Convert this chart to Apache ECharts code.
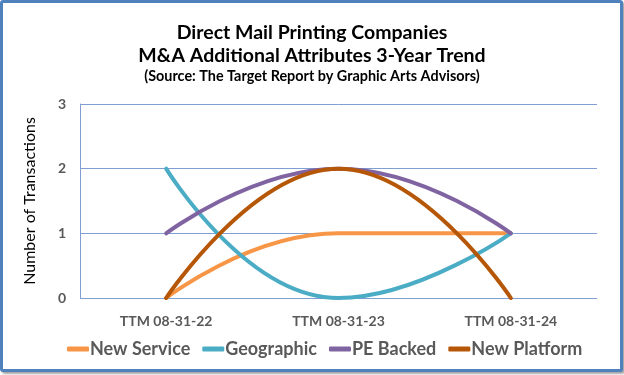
<!DOCTYPE html>
<html>
<head>
<meta charset="utf-8">
<script src="https://cdn.jsdelivr.net/npm/echarts@6/dist/echarts.min.js"></script>
<style>
html,body{margin:0;padding:0;background:#fff;}
#frame{position:absolute;left:0;top:0;width:617px;height:366px;border:3px solid #4F81BD;border-radius:3px;box-shadow:2px 2px 2px rgba(0,0,0,0.35);background:#fff;}
#chart{position:absolute;left:-3px;top:-3px;width:624px;height:375px;}
</style>
</head>
<body>
<div id="frame"><div id="chart"></div></div>
<script>
var categories = ['TTM 08-31-22', 'TTM 08-31-23', 'TTM 08-31-24'];
var newService = [0, 1, 1];
var geographic = [2, 0, 1];
var peBacked = [1, 2, 1];
var newPlatform = [0, 2, 0];
var seriesNames = ['New Service', 'Geographic', 'PE Backed', 'New Platform'];
var seriesColors = ['#F79646', '#4BACC6', '#8064A2', '#B65708'];
var seriesData = [newService, geographic, peBacked, newPlatform];

var chart = echarts.init(document.getElementById('chart'));
var font = 'Lato, "Open Sans", sans-serif';
chart.setOption({
  animation: false,
  textStyle: {fontFamily: font},
  title: {
    text: 'Direct Mail Printing Companies\nM&A Additional Attributes 3-Year Trend',
    subtext: '(Source: The Target Report by Graphic Arts Advisors)',
    left: 'center',
    top: 16,
    itemGap: 2,
    textStyle: {fontFamily: font, fontSize: 19.5, fontWeight: 'bold', color: '#000', lineHeight: 23},
    subtextStyle: {fontFamily: font, fontSize: 14.4, fontWeight: 'bold', color: '#000'}
  },
  grid: {left: 80, right: 27, top: 104, bottom: 77},
  legend: {
    data: seriesNames,
    bottom: 12,
    left: 62,
    icon: 'roundRect',
    itemWidth: 22,
    itemHeight: 5,
    itemGap: 12,
    textStyle: {fontFamily: font, fontSize: 18, fontWeight: 'bold', color: '#595959', padding: [0, 0, 0, -4]}
  },
  xAxis: {
    type: 'category',
    data: categories,
    boundaryGap: true,
    axisLine: {show: false},
    axisTick: {show: false},
    axisLabel: {fontFamily: font, fontSize: 14, fontWeight: 'bold', color: '#595959', margin: 16}
  },
  yAxis: {
    type: 'value',
    min: 0, max: 3, interval: 1,
    name: 'Number of Transactions',
    nameLocation: 'middle',
    nameGap: 42,
    nameTextStyle: {fontFamily: font, fontSize: 16, color: '#000'},
    axisLine: {show: true, lineStyle: {color: '#7F9FD3', width: 1}},
    axisTick: {show: false},
    axisLabel: {fontFamily: font, fontSize: 14, fontWeight: 'bold', color: '#595959', margin: 14},
    splitLine: {lineStyle: {color: '#7F9FD3', width: 1}}
  },
  series: seriesNames.map(function (n, i) {
    return {
      name: n,
      type: 'line',
      data: seriesData[i],
      smooth: 0.5,
      showSymbol: false,
      symbol: 'none',
      color: seriesColors[i],
      lineStyle: {width: 4, color: seriesColors[i], cap: 'round'}
    };
  })
});
</script>
</body>
</html>
